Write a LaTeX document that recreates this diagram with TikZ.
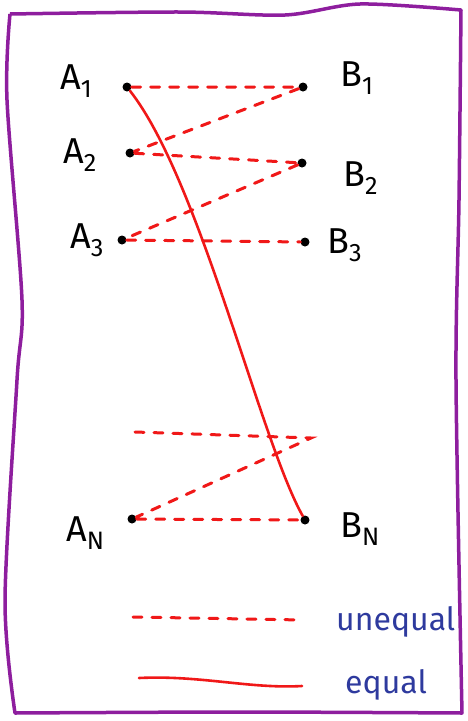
\documentclass[tikz,border=0pt]{standalone}
\usepackage{fontspec}
\setmainfont{Fira Sans}
\usetikzlibrary{arrows.meta}
\definecolor{penred}{HTML}{F01818}
\definecolor{penblue}{HTML}{2E3A9E}
\definecolor{penpurple}{HTML}{8E1E9E}

\begin{document}
\begin{tikzpicture}[x=1pt, y=-1pt,
  dot/.style={circle, fill=black, inner sep=0pt, minimum size=9pt},
  lbl/.style={font=\fontsize{36}{40}\selectfont, inner sep=0pt},
  unequal/.style={penred, line width=3pt, dash pattern=on 9pt off 10pt, line cap=round},
  equal/.style={penred, line width=2.6pt, line cap=round},
  key/.style={penblue, font=\fontsize{32}{36}\selectfont, inner sep=0pt}]

  \useasboundingbox (0,0) rectangle (468,721);
  % Frame
  \draw[penpurple, line width=3.5pt, line join=round]
    plot[smooth] coordinates {(10,14) (180,12) (285,15) (360,4) (461,10)}
    -- plot[smooth] coordinates {(461,10) (459,200) (456,380) (462,713)}
    -- plot[smooth] coordinates {(462,713) (240,712) (15,713)}
    -- plot[smooth] coordinates {(15,713) (5,600) (17,380) (22,300) (7,100) (10,14)};

  % Points
  \node[dot] (a1) at (127,87) {};
  \node[dot] (b1) at (303,87) {};
  \node[dot] (a2) at (130,153) {};
  \node[dot] (b2) at (302,163) {};
  \node[dot] (a3) at (122,240) {};
  \node[dot] (b3) at (305,242) {};
  \node[dot] (an) at (132,519) {};
  \node[dot] (bn) at (305,520) {};
  \coordinate (am) at (135,432);
  \coordinate (bm) at (311,438);

  % Labels
  \node[lbl, anchor=base west] (la1) at (60,89) {A\textsubscript{1}};
  \node[lbl, anchor=base west] (la2) at (63,163) {A\textsubscript{2}};
  \node[lbl, anchor=base west] (la3) at (70,248) {A\textsubscript{3}};
  \node[lbl, anchor=base west] (lan) at (66,541) {A\textsubscript{N}};
  \node[lbl, anchor=base west] (lb1) at (340,86) {B\textsubscript{1}};
  \node[lbl, anchor=base west] (lb2) at (343,186) {B\textsubscript{2}};
  \node[lbl, anchor=base west] (lb3) at (327,253) {B\textsubscript{3}};
  \node[lbl, anchor=base west] (lbn) at (340,537) {B\textsubscript{N}};

  % Unequal pairs
  \draw[unequal] (a1) -- (b1) -- (a2) -- (b2) -- (a3) -- (b3);
  \draw[unequal] (am) -- (bm) -- (an) -- (bn);
  % Equal pair
  \draw[equal] (a1) .. controls (200,180) and (260,440) .. (bn);

  % Key
  \node[key, anchor=base west] (kun) at (336,630) {unequal};
  \node[key, anchor=base west] (keq) at (345,693) {equal};
  \coordinate (u0) at (133,617);
  \coordinate (u1) at (303,620);
  \coordinate (e0) at (139,678);
  \coordinate (e1) at (302,686);
  \draw[unequal] (u0) -- (u1);
  \draw[equal] (e0) .. controls (200,675) and (250,689) .. (e1);
\end{tikzpicture}
\end{document}
